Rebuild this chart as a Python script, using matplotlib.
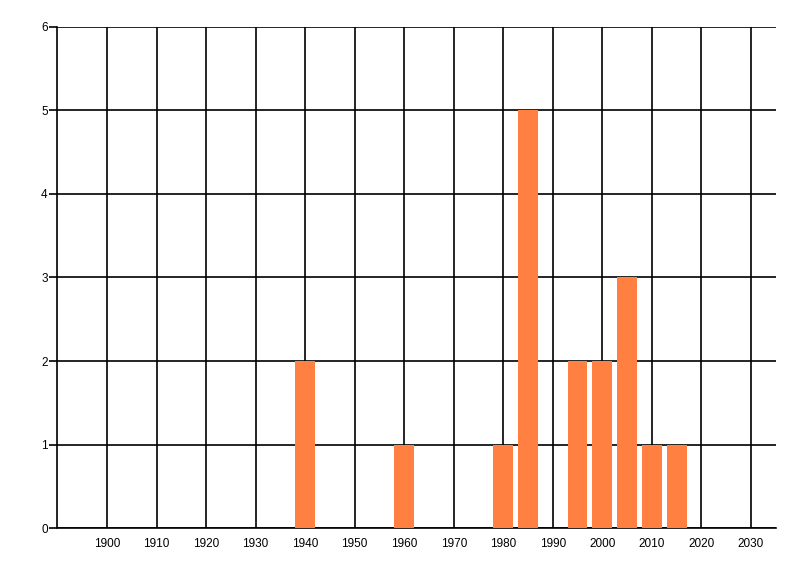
import matplotlib
matplotlib.use('agg')
import matplotlib.pyplot as plt

years = [1940, 1960, 1980, 1985, 1995, 2000, 2005, 2010, 2015]
counts = [2, 1, 1, 5, 2, 2, 3, 1, 1]
x_ticks = list(range(1900, 2031, 10))
y_ticks = list(range(0, 7))

plt.rcParams['font.family'] = ['Liberation Sans', 'DejaVu Sans']

fig = plt.figure(figsize=(8, 5.76), dpi=100)
ax = fig.add_axes([57.5 / 800, (576 - 528.3) / 576, (775.7 - 57.5) / 800, (528.3 - 26.5) / 576])

ax.bar(years, counts, width=4, color='#FF8040', zorder=3)

ax.set_xlim(1890, 2035)
ax.set_ylim(0, 6)
ax.set_xticks(x_ticks)
ax.set_yticks(y_ticks)

# black grid like the winforms chart
ax.grid(True, color='black', linewidth=1.2, zorder=1)
ax.set_axisbelow(True)

for side in ['top', 'right']:
    ax.spines[side].set_visible(False)
ax.spines['left'].set_linewidth(1.2)
ax.spines['bottom'].set_linewidth(1.2)

ax.tick_params(axis='x', length=0, pad=7, labelsize=8.5)
ax.tick_params(axis='y', length=6, width=1.2, pad=1, labelsize=8.5)

plt.savefig('out.png', dpi=100)
plt.close()
